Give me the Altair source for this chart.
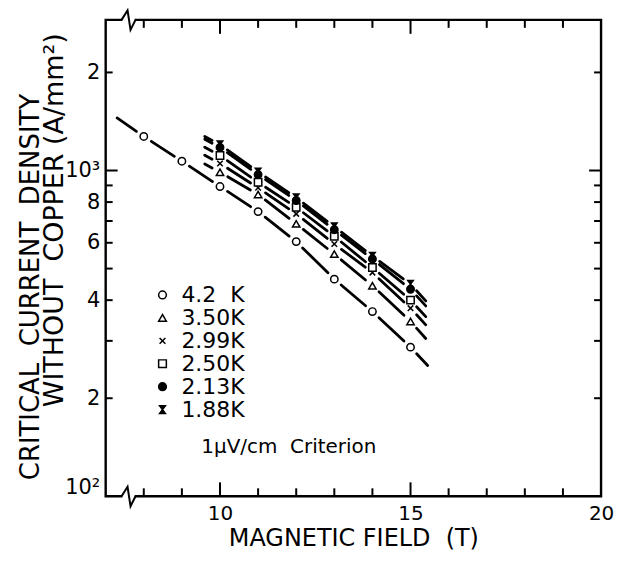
import altair as alt
import numpy as np
import pandas as pd

FONT = "DejaVu Sans"
W, H = 497, 478
X_DOMAIN = [7, 20]
Y_DOMAIN = [100, 2900]

# ---------------- data ----------------
series_labels = ["4.2\u00a0\u00a0K", "3.50K", "2.99K", "2.50K", "2.13K", "1.88K"]
series_shapes = [
    "circle",
    "triangle-up",
    "M-0.75,-0.75L0.75,0.75M-0.75,0.75L0.75,-0.75",
    "square",
    "circle",
    "M-0.75,-1L0.75,-1L-0.75,1L0.75,1Z",
]
series_fills = ["white", "white", "white", "white", "black", "black"]
series_strokes = ["black", "black", "black", "black", "black", "black"]

field_42 = [8, 9, 10, 11, 12, 13, 14, 15]
jc_42 = [1272, 1068, 893, 748, 605, 464, 369, 287]

field_low = [10, 11, 12, 13, 14, 15]
jc_350 = [988, 844, 686, 554, 443, 344]
jc_299 = [1051, 885, 736, 595, 486, 378]
jc_250 = [1112, 920, 771, 628, 504, 400]
jc_213 = [1177, 972, 809, 658, 535, 432]
jc_188 = [1200, 990, 825, 672, 546, 448]

# ends of the fitted curves
fit_42_field = [7.3, 15.45]
fit_42_jc = [1450, 252]
fit_low_field = [9.6, 15.4]
fit_low_start = [1047, 1114, 1179, 1248, 1272]
fit_low_end = [305, 336, 356, 384, 398]

x_minor_ticks = [8, 9, 11, 12, 13, 14, 16, 17, 18, 19]
x_major_ticks = [10, 15]
y_minor_ticks = [200, 300, 400, 500, 600, 700, 800, 900, 2000]
y_major_ticks = [1000]
y_label_values = [100, 200, 400, 600, 800, 1000, 2000]
x_label_values = [10, 15, 20]
break_field = [7.6]

x_title = "MAGNETIC\u00a0FIELD\u00a0\u00a0(T)"
y_title_lines = ["CRITICAL\u00a0\u00a0CURRENT\u00a0\u00a0DENSITY", "WITHOUT\u00a0\u00a0COPPER\u00a0(A/mm\u00b2)"]
criterion_text = ["1\u03bcV/cm\u00a0\u00a0Criterion"]

# ---------------- tables ----------------
low_sets = [jc_350, jc_299, jc_250, jc_213, jc_188]
pts_rows = []
for f, j in zip(field_42, jc_42):
    pts_rows.append({"series": series_labels[0], "field": f, "jc": j})
for name, vals in zip(series_labels[1:], low_sets):
    for f, j in zip(field_low, vals):
        pts_rows.append({"series": name, "field": f, "jc": j})
pts = pd.DataFrame(pts_rows)

PX_X = W / (X_DOMAIN[1] - X_DOMAIN[0])
PX_Y = H / np.log10(Y_DOMAIN[1] / Y_DOMAIN[0])
GAP = 9.0

seg_rows = []


def add_segments(name, xs_, ys_, flags):
    for i in range(len(xs_) - 1):
        x0, x1 = xs_[i], xs_[i + 1]
        l0, l1 = np.log10(ys_[i]), np.log10(ys_[i + 1])
        L = np.hypot((x1 - x0) * PX_X, (l1 - l0) * PX_Y)
        t0 = GAP / L if flags[i] else 0.0
        t1 = 1 - GAP / L if flags[i + 1] else 1.0
        seg_rows.append({
            "series": name,
            "x": x0 + t0 * (x1 - x0), "x2": x0 + t1 * (x1 - x0),
            "y": 10 ** (l0 + t0 * (l1 - l0)), "y2": 10 ** (l0 + t1 * (l1 - l0)),
        })


add_segments(series_labels[0],
             [fit_42_field[0]] + field_42 + [fit_42_field[1]],
             [fit_42_jc[0]] + jc_42 + [fit_42_jc[1]],
             [False] + [True] * len(field_42) + [False])
for name, vals, s, e in zip(series_labels[1:], low_sets, fit_low_start, fit_low_end):
    add_segments(name,
                 [fit_low_field[0]] + field_low + [fit_low_field[1]],
                 [s] + vals + [e],
                 [False] + [True] * len(field_low) + [False])
segs = pd.DataFrame(seg_rows)

xs = alt.Scale(domain=X_DOMAIN, nice=False, zero=False)
ys = alt.Scale(type="log", domain=Y_DOMAIN, nice=False)

X_AXIS = alt.Axis(
    values=x_label_values, title=x_title, labelFlush=False,
    domain=False, ticks=False, grid=False, labelFont=FONT, labelFontSize=20,
    labelColor="black", labelPadding=7, titleFont=FONT, titleFontSize=24,
    titleFontWeight="normal", titleColor="black", titlePadding=3)
Y_AXIS = alt.Axis(
    values=y_label_values, title="", domain=False, ticks=False, grid=False,
    labelFont=FONT, labelFontSize=21, labelColor="black", labelPadding=6,
    labelOffset={"condition": {"test": "datum.value == 100", "value": -9}, "value": 0},
    labelExpr="datum.value == 1000 ? '10\u00b3' : datum.value == 100 ? '10\u00b2' : datum.value == 2000 ? '2' : '' + (datum.value / 100)")

one = pd.DataFrame({"k": [0]})

# frame
frame = alt.Chart(one).mark_rect(fill="white", fillOpacity=0, stroke="black", strokeWidth=2.4).encode(
    x=alt.value(0), x2=alt.value(W), y=alt.value(0), y2=alt.value(H)
)


def xticks(vals, length):
    d = pd.DataFrame({"v": vals})
    top = alt.Chart(d).mark_rule(color="black", strokeWidth=2).encode(
        x=alt.X("v:Q", scale=xs, axis=X_AXIS), y=alt.value(0), y2=alt.value(length))
    bot = alt.Chart(d).mark_rule(color="black", strokeWidth=2).encode(
        x=alt.X("v:Q", scale=xs, axis=X_AXIS), y=alt.value(H), y2=alt.value(H - length))
    return [top, bot]


def yticks(vals, length):
    d = pd.DataFrame({"v": vals})
    left = alt.Chart(d).mark_rule(color="black", strokeWidth=2).encode(
        y=alt.Y("v:Q", scale=ys, axis=Y_AXIS), x=alt.value(0), x2=alt.value(length))
    right = alt.Chart(d).mark_rule(color="black", strokeWidth=2).encode(
        y=alt.Y("v:Q", scale=ys, axis=Y_AXIS), x=alt.value(W), x2=alt.value(W - length))
    return [left, right]


tick_layers = xticks(x_minor_ticks, 8) + xticks(x_major_ticks, 14) + yticks(y_minor_ticks, 7) + yticks(y_major_ticks, 12)

# axis breaks
brk = pd.DataFrame({"v": break_field})
break_layers = []
for ypix in [0, H]:
    break_layers.append(alt.Chart(brk).mark_point(shape="square", filled=True, fill="white", strokeWidth=0, size=150, opacity=1).encode(
        x=alt.X("v:Q", scale=xs, axis=X_AXIS), y=alt.value(ypix)))
    break_layers.append(alt.Chart(brk).mark_point(shape="M-0.7,0L-0.1,-0.95L0.2,1L0.7,0", filled=False, stroke="black", strokeWidth=2, size=400, opacity=1).encode(
        x=alt.X("v:Q", scale=xs, axis=X_AXIS), y=alt.value(ypix)))

# fitted curves
lines = alt.Chart(segs).mark_rule(color="black", strokeWidth=2.8, strokeCap="round").encode(
    x=alt.X("x:Q", scale=xs, axis=X_AXIS), x2="x2:Q",
    y=alt.Y("y:Q", scale=ys, axis=Y_AXIS), y2="y2:Q",
)

leg = alt.Legend(
    title=None, orient="none", legendX=46, legendY=265, padding=0,
    labelFont=FONT, labelFontSize=22, labelColor="black", labelOffset=8,
    symbolSize=60, symbolStrokeWidth=1.5, rowPadding=1,
)

points = alt.Chart(pts).mark_point(filled=True, strokeWidth=1.5, size=55, opacity=1).encode(
    x=alt.X("field:Q", scale=xs, axis=X_AXIS),
    y=alt.Y("jc:Q", scale=ys, axis=Y_AXIS),
    shape=alt.Shape("series:N", scale=alt.Scale(domain=series_labels, range=series_shapes), legend=leg),
    fill=alt.Fill("series:N", scale=alt.Scale(domain=series_labels, range=series_fills), legend=leg),
    stroke=alt.Stroke("series:N", scale=alt.Scale(domain=series_labels, range=series_strokes), legend=leg),
)

crit = alt.Chart(pd.DataFrame({"t": criterion_text})).mark_text(
    font=FONT, fontSize=20, align="left", baseline="middle", color="black"
).encode(x=alt.value(96), y=alt.value(429), text="t:N")

ytitle1 = alt.Chart(pd.DataFrame({"t": [y_title_lines[0]]})).mark_text(
    font=FONT, fontSize=26, align="center", baseline="middle", angle=270, color="black"
).encode(x=alt.value(-75), y=alt.value(268), text="t:N")
ytitle2 = alt.Chart(pd.DataFrame({"t": [y_title_lines[1]]})).mark_text(
    font=FONT, fontSize=27, align="center", baseline="middle", angle=270, color="black"
).encode(x=alt.value(-51), y=alt.value(201), text="t:N")

chart = alt.layer(
    frame, *tick_layers, *break_layers, lines, points, crit, ytitle1, ytitle2
).properties(
    width=W, height=H, autosize="none",
    padding={"left": 98, "top": 11, "right": 15, "bottom": 62},
).configure_view(stroke=None).configure(background="white")

chart.save("out.html", embed_options={"renderer": "svg", "actions": False})
